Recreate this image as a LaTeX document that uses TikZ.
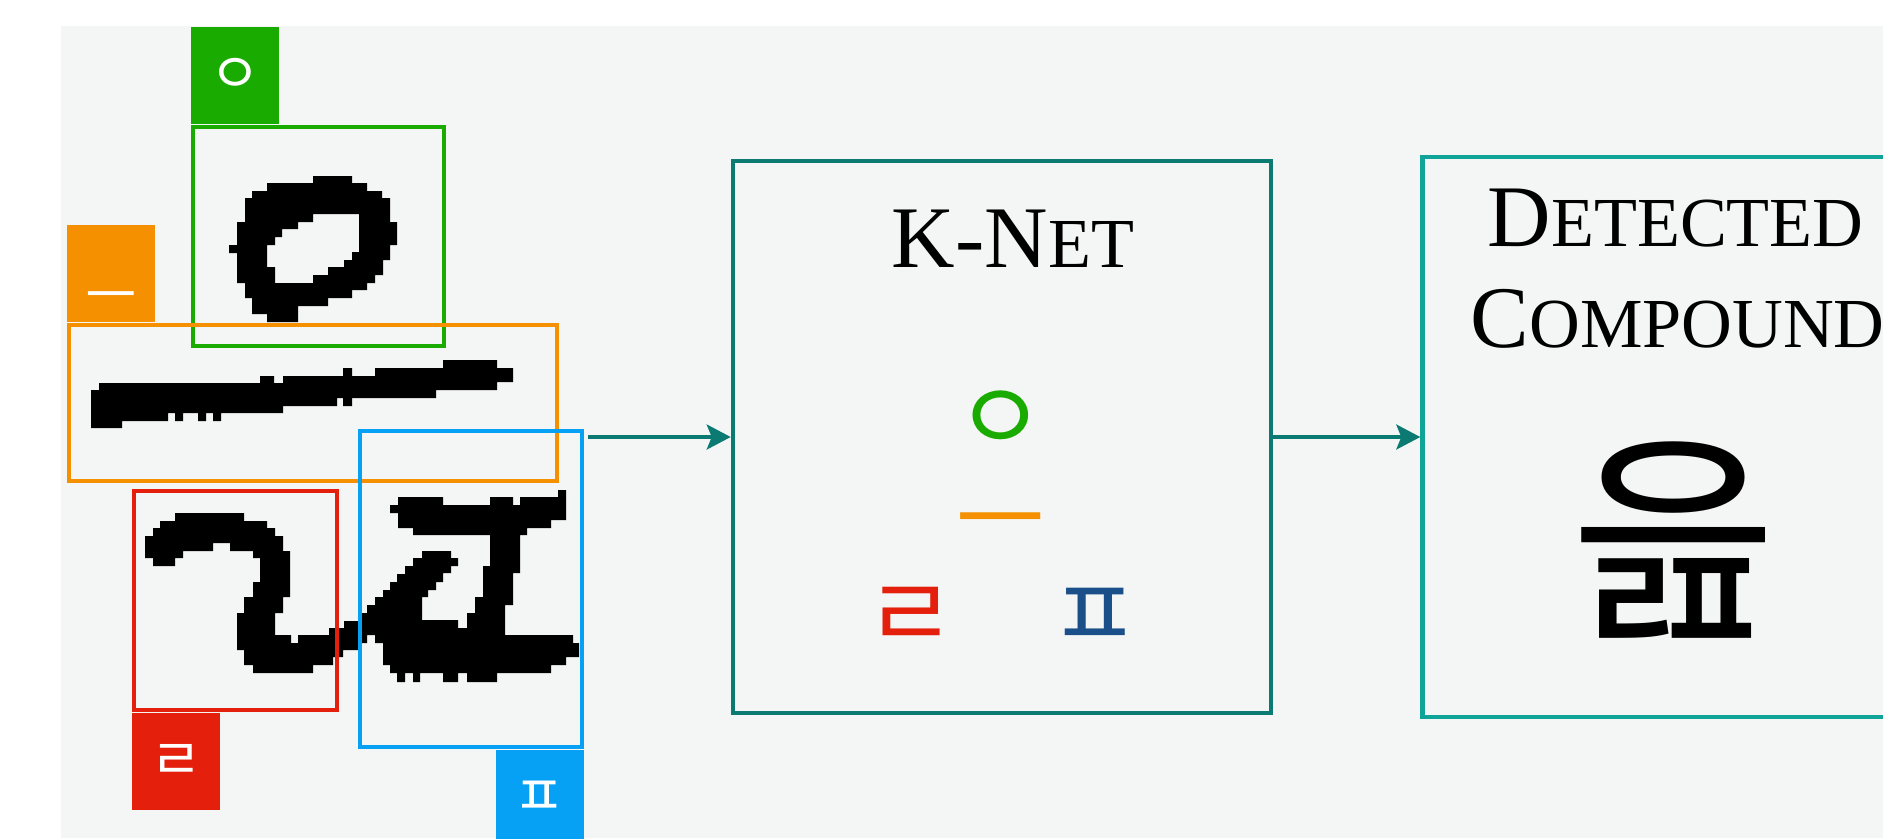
\documentclass[tikz,border=0pt]{standalone}
\usepackage{fontspec}
\setmainfont{Liberation Serif}
\newfontfamily\hangul{Noto Sans CJK KR}
\usetikzlibrary{arrows.meta,positioning}

\definecolor{bgcol}{HTML}{F4F6F6}
\definecolor{jgreen}{HTML}{1AAB00}
\definecolor{jorange}{HTML}{F59100}
\definecolor{jred}{HTML}{E4200C}
\definecolor{jblue}{HTML}{06A0F5}
\definecolor{jnavy}{HTML}{1A4F8A}
\definecolor{netteal}{HTML}{0B7A72}
\definecolor{outteal}{HTML}{10A398}

% capitals followed by faked small capitals
\newcommand{\capsc}[2]{{\fontsize{25}{30}\selectfont #1}{\fontsize{20}{24}\selectfont #2}}

\begin{document}
\begin{tikzpicture}[x=0.1mm, y=-0.1mm,
  bbox/.style={draw=#1, line width=1.3pt, inner sep=0pt},
  tag/.style={fill=#1, text=white, inner sep=0pt, minimum width=8.8mm, minimum height=9.7mm,
    font=\hangul\fontsize{16}{16}\selectfont},
  stage/.style={draw=#1, line width=1.3pt, inner sep=0pt},
  flow/.style={netteal, line width=0.9pt, -{Stealth[length=2.4mm, width=2.5mm, inset=0.5mm]}},
  jamo/.style={text=#1, inner sep=0pt, font=\hangul\fontsize{28}{28}\selectfont},
  title/.style={inner sep=0pt, text=black}]
   \useasboundingbox (0,0) rectangle (1883,838);
   \fill[bgcol] (61,26) rectangle (1883,838);

   % handwritten input
   \fill[black, even odd rule]
     (313,176) -- (352,176) -- (352,183) -- (367,183) -- (367,191) -- (382,191) -- (382,198) -- (390,198)
     -- (390,222) -- (397,222) -- (397,245) -- (390,245) -- (390,260) -- (383,260) -- (383,275) -- (375,275)
     -- (375,283) -- (367,283) -- (367,290) -- (352,290) -- (352,298) -- (328,298) -- (328,306) -- (298,306)
     -- (298,322) -- (267,322) -- (267,314) -- (252,314) -- (252,298) -- (245,298) -- (245,283) -- (237,283)
     -- (237,253) -- (229,253) -- (229,245) -- (237,245) -- (237,222) -- (245,222) -- (245,198) -- (252,198)
     -- (252,191) -- (267,191) -- (267,183) -- (313,183) -- cycle
     (313,214) -- (359,214) -- (359,252) -- (352,252) -- (352,260) -- (344,260) -- (344,267) -- (328,267)
     -- (328,275) -- (313,275) -- (313,283) -- (275,283) -- (275,267) -- (267,267) -- (267,245) -- (275,245)
     -- (275,237) -- (282,237) -- (282,229) -- (298,229) -- (298,222) -- (313,222) -- cycle;
   \fill[black]
     (91,428) -- (91,390) -- (99,390) -- (99,383) -- (260,383) -- (260,376) -- (274,376) -- (274,383)
     -- (283,383) -- (283,376) -- (343,376) -- (343,368) -- (352,368) -- (352,376) -- (375,376) -- (375,368)
     -- (443,368) -- (443,360) -- (497,360) -- (497,368) -- (513,368) -- (513,382) -- (497,382) -- (497,390)
     -- (436,390) -- (436,398) -- (352,398) -- (352,406) -- (343,406) -- (343,398) -- (337,398) -- (337,406)
     -- (283,406) -- (283,413) -- (221,413) -- (221,421) -- (213,421) -- (213,413) -- (206,413) -- (206,421)
     -- (198,421) -- (198,413) -- (183,413) -- (183,421) -- (175,421) -- (175,413) -- (168,413) -- (168,421)
     -- (122,421) -- (122,428) -- cycle;
   \fill[black]
     (145,536) -- (153,536) -- (153,528) -- (160,528) -- (160,521) -- (175,521) -- (175,513) -- (244,513)
     -- (244,521) -- (267,521) -- (267,528) -- (275,528) -- (275,536) -- (283,536) -- (283,551) -- (290,551)
     -- (290,597) -- (283,597) -- (283,613) -- (275,613) -- (275,635) -- (291,635) -- (291,643) -- (298,643)
     -- (298,635) -- (329,635) -- (329,628) -- (344,628) -- (344,621) -- (360,621) -- (360,613) -- (367,613)
     -- (367,605) -- (375,605) -- (375,597) -- (383,597) -- (383,590) -- (390,590) -- (390,582) -- (397,582)
     -- (397,574) -- (405,574) -- (405,566) -- (413,566) -- (413,558) -- (422,558) -- (422,551) -- (451,551)
     -- (451,558) -- (458,558) -- (458,566) -- (451,566) -- (451,573) -- (443,573) -- (443,582) -- (436,582)
     -- (436,590) -- (428,590) -- (428,597) -- (422,597) -- (422,620) -- (458,620) -- (458,628) -- (467,628)
     -- (467,613) -- (475,613) -- (475,597) -- (483,597) -- (483,566) -- (490,566) -- (490,535) -- (413,535)
     -- (413,528) -- (398,528) -- (398,513) -- (390,513) -- (390,505) -- (398,505) -- (398,497) -- (443,497)
     -- (443,505) -- (490,505) -- (490,497) -- (513,497) -- (513,505) -- (520,505) -- (520,497) -- (558,497)
     -- (558,490) -- (566,490) -- (566,520) -- (551,520) -- (551,528) -- (527,528) -- (527,535) -- (520,535)
     -- (520,573) -- (513,573) -- (513,605) -- (505,605) -- (505,635) -- (573,635) -- (573,643) -- (579,643)
     -- (579,657) -- (566,657) -- (566,665) -- (551,665) -- (551,673) -- (497,673) -- (497,682) -- (467,682)
     -- (467,673) -- (458,673) -- (458,682) -- (443,682) -- (443,673) -- (420,673) -- (420,682) -- (413,682)
     -- (413,673) -- (405,673) -- (405,682) -- (397,682) -- (397,673) -- (390,673) -- (390,665) -- (383,665)
     -- (383,643) -- (375,643) -- (375,635) -- (367,635) -- (367,643) -- (358,643) -- (358,650) -- (343,650)
     -- (343,657) -- (333,657) -- (333,665) -- (313,665) -- (313,673) -- (253,673) -- (253,665) -- (244,665)
     -- (244,650) -- (237,650) -- (237,613) -- (244,613) -- (244,597) -- (253,597) -- (253,582) -- (260,582)
     -- (260,558) -- (253,558) -- (253,551) -- (230,551) -- (230,543) -- (213,543) -- (213,551) -- (183,551)
     -- (183,558) -- (175,558) -- (175,566) -- (153,566) -- (153,558) -- (145,558) -- cycle;

   % detection boxes and their tags
   \node[bbox=jgreen, minimum width=25.1mm, minimum height=21.9mm] (boxO) at (318.5,236.5) {};
   \node[tag=jgreen, anchor=south west] (tagO) at (boxO.north west) {ㅇ};
   \node[bbox=jorange, minimum width=48.8mm, minimum height=15.6mm] (boxEu) at (313,403) {};
   \node[tag=jorange, anchor=south west] (tagEu) at (boxEu.north west) {\raisebox{-3mm}[\height][\depth]{ㅡ}};
   \node[bbox=jred, minimum width=20.3mm, minimum height=21.9mm] (boxL) at (235.5,600.5) {};
   \node[tag=jred, anchor=north west] (tagL) at (boxL.south west) {ㄹ};
   \node[bbox=jblue, minimum width=22.2mm, minimum height=31.6mm] (boxP) at (471,589) {};
   \node[tag=jblue, anchor=north east] (tagP) at (boxP.south east) {ㅍ};

   % network stage
   \node[stage=netteal, minimum width=53.8mm, minimum height=55.2mm] (knet) at (1002,437) {};
   \node[title, anchor=base] (knettitle) at (1013,267) {\capsc{K-N}{ET}};
   \node[jamo=jgreen] (kO) at (1001,422) {ㅇ};
   \node[jamo=jorange] (kEu) at (1001,534) {ㅡ};
   \node[jamo=jred] (kL) at (911,618) {ㄹ};
   \node[jamo=jnavy] (kP) at (1095,618) {ㅍ};

   % output stage
   \node[stage=outteal, minimum width=51.4mm, minimum height=56mm, right=14.7mm of knet] (found) {};
   \node[title, anchor=base west] (dettitle) at (1487,246) {\capsc{D}{ETECTED}};
   \node[title, anchor=base west] (comptitle) at (1470,347) {\capsc{C}{OMPOUND}};
   \node[inner sep=0pt, font=\hangul\fontsize{64}{64}\selectfont] (compound) at (1674,540) {읊};

   \coordinate (imgout) at (588,437);
   \draw[flow] (imgout) -- (knet);
   \draw[flow] (knet) -- (found);
\end{tikzpicture}
\end{document}
